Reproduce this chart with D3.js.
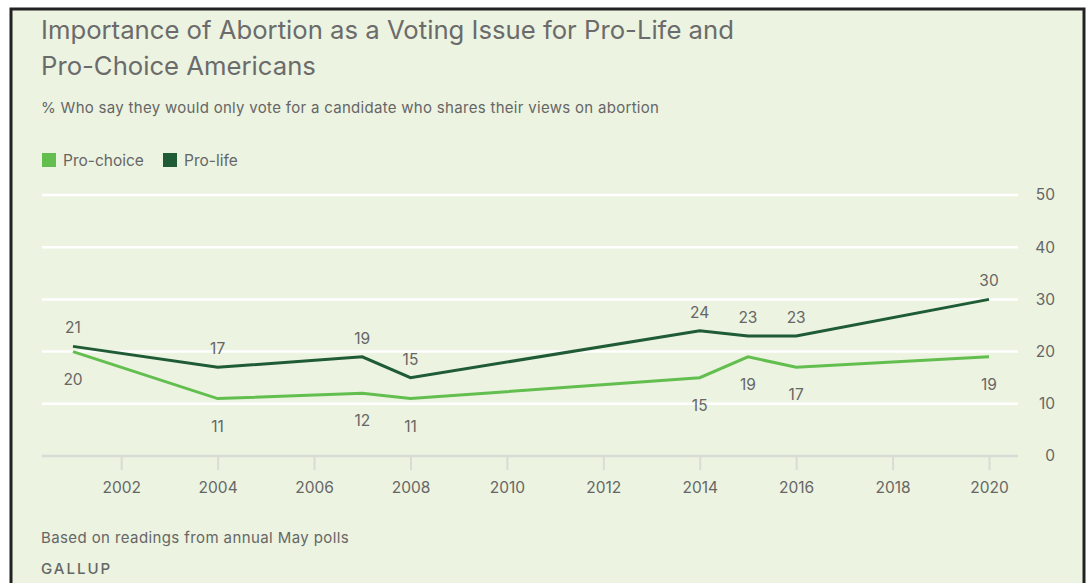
<!DOCTYPE html>
<html lang="en">
<head>
    <meta charset="UTF-8">
    <title>Importance of Abortion as a Voting Issue</title>
    <script src="https://d3js.org/d3.v7.min.js"></script>
    <style>
        body { margin: 0; background: #fff; }
        text { font-family: Inter, "Noto Sans", sans-serif; }
    </style>
</head>
<body>
    <svg width="1088" height="583"></svg>
    <script>
        // data
        const years = [2001, 2004, 2007, 2008, 2014, 2015, 2016, 2020];
        const proChoice = [20, 11, 12, 11, 15, 19, 17, 19];
        const proLife = [21, 17, 19, 15, 24, 23, 23, 30];
        const yTicks = [0, 10, 20, 30, 40, 50];
        const xTicks = [2002, 2004, 2006, 2008, 2010, 2012, 2014, 2016, 2018, 2020];

        const svg = d3.select("svg");
        const fontStack = "Inter, 'Noto Sans', sans-serif";

        // panel + frame
        svg.append("rect")
            .attr("x", 11).attr("y", 9)
            .attr("width", 1073).attr("height", 590)
            .attr("fill", "#ecf3e0")
            .attr("stroke", "#222").attr("stroke-width", 3);

        const x = d3.scaleLinear().domain([2001, 2020]).range([73, 989]);
        const y = d3.scaleLinear().domain([0, 50]).range([456, 195]);

        // titles
        svg.append("text").attr("x", 41).attr("y", 39)
            .attr("font-size", 25.7).attr("fill", "#6b6b6b")
            .text("Importance of Abortion as a Voting Issue for Pro-Life and");
        svg.append("text").attr("x", 41).attr("y", 75)
            .attr("font-size", 25.7).attr("fill", "#6b6b6b")
            .text("Pro-Choice Americans");
        svg.append("text").attr("x", 41).attr("y", 113)
            .attr("font-size", 15).attr("fill", "#666")
            .attr("letter-spacing", 0.3)
            .text("% Who say they would only vote for a candidate who shares their views on abortion");

        // legend
        const legend = [
            { name: "Pro-choice", color: "#62bf4f", x: 42 },
            { name: "Pro-life", color: "#1f5b35", x: 163 }
        ];
        const lg = svg.append("g");
        legend.forEach(d => {
            lg.append("rect").attr("x", d.x).attr("y", 153)
                .attr("width", 14).attr("height", 14).attr("fill", d.color);
            lg.append("text").attr("x", d.x + 21).attr("y", 166)
                .attr("font-size", 15.5).attr("fill", "#666").text(d.name);
        });

        // gridlines
        svg.append("g")
            .selectAll("line")
            .data(yTicks)
            .join("line")
            .attr("x1", 42).attr("x2", 1018)
            .attr("y1", d => y(d)).attr("y2", d => y(d))
            .attr("stroke", d => d === 0 ? "#d8dcd5" : "#fff")
            .attr("stroke-width", 2.5);

        // y axis on the right
        const yAxis = d3.axisRight(y).tickValues(yTicks).tickSize(0).tickPadding(0);
        const gy = svg.append("g").attr("transform", "translate(1055,0)").call(yAxis);
        gy.select(".domain").remove();
        gy.selectAll("text")
            .attr("text-anchor", "end")
            .attr("font-size", 15.5).attr("fill", "#666")
            .style("font-family", fontStack);

        // x axis
        const xAxis = d3.axisBottom(x).tickValues(xTicks).tickFormat(d3.format("d"))
            .tickSize(14).tickPadding(12);
        const gx = svg.append("g").attr("transform", "translate(0,456)").call(xAxis);
        gx.select(".domain").remove();
        gx.selectAll("line").attr("stroke", "#d8dcd5").attr("stroke-width", 2);
        gx.selectAll("text")
            .attr("font-size", 15.5).attr("fill", "#666")
            .style("font-family", fontStack);

        // lines
        const line = d3.line().x(d => x(d[0])).y(d => y(d[1]));
        const series = [
            { values: proChoice, color: "#62bf4f", dy: 33 },
            { values: proLife, color: "#1f5b35", dy: -13 }
        ];
        series.forEach(s => {
            const pts = years.map((yr, i) => [yr, s.values[i]]);
            svg.append("path")
                .datum(pts)
                .attr("fill", "none")
                .attr("stroke", s.color)
                .attr("stroke-width", 3)
                .attr("d", line);
            svg.append("g")
                .selectAll("text")
                .data(pts)
                .join("text")
                .attr("x", d => x(d[0]))
                .attr("y", d => y(d[1]) + s.dy)
                .attr("text-anchor", "middle")
                .attr("font-size", 15.5).attr("fill", "#666")
                .text(d => d[1]);
        });

        // footer
        svg.append("text").attr("x", 41).attr("y", 543)
            .attr("font-size", 15).attr("fill", "#666")
            .attr("letter-spacing", 0.4)
            .text("Based on readings from annual May polls");
        svg.append("text").attr("x", 41).attr("y", 574)
            .attr("font-size", 15).attr("fill", "#666")
            .attr("font-weight", 500)
            .attr("letter-spacing", 2)
            .text("GALLUP");
    </script>
</body>
</html>
